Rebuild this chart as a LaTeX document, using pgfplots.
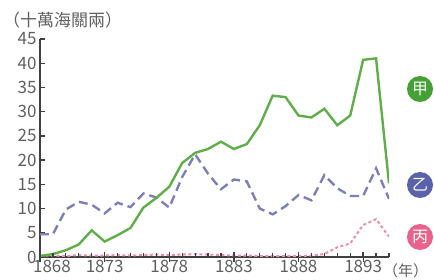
\documentclass[border=0pt]{standalone}
\usepackage{pgfplots}
\pgfplotsset{compat=1.18}
\usepackage{fontspec}
\setmainfont{Noto Sans CJK TC}
\definecolor{cgreen}{HTML}{5FAE4A}
\definecolor{cblue}{HTML}{7D80B8}
\definecolor{cpink}{HTML}{EE8FA8}
\definecolor{kgreen}{HTML}{45A035}
\definecolor{kblue}{HTML}{5A62AA}
\definecolor{kpink}{HTML}{E8628A}
\definecolor{txt}{HTML}{606060}
\definecolor{axc}{HTML}{404040}
\begin{document}
\begin{tikzpicture}
\useasboundingbox (-40pt,-22pt) rectangle (394pt,257pt);
\begin{axis}[
  scale only axis, width=349pt, height=218pt,
  xmin=1868, xmax=1895, ymin=0, ymax=45,
  axis x line=bottom, axis y line=left,
  axis line style={axc, line width=2pt, -},
  xtick={1868,1873,1878,1883,1888,1893},
  xticklabels={\hspace*{24pt}1868,1873,1878,1883,1888,1893},
  ytick={0,5,10,15,20,25,30,35,40,45},
  yticklabels={0,5,10,15,20,25,30,35,40,45},
  tick align=inside,
  major tick length=5pt,
  every tick/.append style={axc, line width=1.3pt},
  ticklabel style={font=\fontsize{17}{17}\selectfont\color{txt}},
]
\addplot[cpink, line width=2pt, dash pattern=on 3pt off 2.5pt] coordinates {
(1868,0.3)(1869,0.3)(1870,0.2)(1871,0.4)(1872,0.3)(1873,0.3)(1874,0.4)(1875,0.3)
(1876,0.4)(1877,0.5)(1878,0.4)(1879,0.5)(1880,0.6)(1881,0.5)(1882,0.4)(1883,0.3)
(1884,0.3)(1885,0.2)(1886,0.2)(1887,0.2)(1888,0.2)(1889,0.3)(1890,0.6)(1891,2.0)
(1892,2.8)(1893,6.6)(1894,7.8)(1895,4.2)};
\addplot[cblue, line width=2.4pt, dash pattern=on 9pt off 5pt] coordinates {
(1868,4.7)(1869,4.7)(1870,9.8)(1871,11.4)(1872,10.8)(1873,9.0)(1874,11.2)(1875,10.3)
(1876,13.1)(1877,12.3)(1878,10.2)(1879,16.5)(1880,21.2)(1881,17.2)(1882,14.0)(1883,16.0)
(1884,15.6)(1885,10.0)(1886,8.8)(1887,10.5)(1888,12.8)(1889,11.7)(1890,16.9)(1891,14.2)
(1892,12.6)(1893,12.6)(1894,18.3)(1895,12.0)};
\addplot[cgreen, line width=2.4pt] coordinates {
(1868,0.2)(1869,0.6)(1870,1.4)(1871,2.6)(1872,5.5)(1873,3.2)(1874,4.5)(1875,6.0)
(1876,10.2)(1877,12.2)(1878,14.5)(1879,19.4)(1880,21.5)(1881,22.3)(1882,23.8)(1883,22.3)
(1884,23.3)(1885,27.2)(1886,33.3)(1887,33.0)(1888,29.2)(1889,28.8)(1890,30.6)(1891,27.2)
(1892,29.2)(1893,40.7)(1894,41.0)(1895,15.2)};
\end{axis}
% axis ticks (decorative, on the axis frame)
\foreach \i in {1,...,27} {\draw[axc, line width=1.2pt] (\i*12.9259pt,0pt) -- (\i*12.9259pt,4.5pt);}
\foreach \i in {0,5,...,25} {\draw[axc, line width=1.3pt] (\i*12.9259pt,-5pt) -- (\i*12.9259pt,5pt);}
\foreach \v in {5,10,...,45} {\draw[axc, line width=1.3pt] (0pt,\v*4.84444pt) -- (5pt,\v*4.84444pt);}
\node[circle, fill=kgreen, minimum size=26pt, inner sep=0pt, text=white, font=\fontsize{16}{16}\selectfont] at (380pt,168pt) {甲};
\node[circle, fill=kblue, minimum size=26pt, inner sep=0pt, text=white, font=\fontsize{16}{16}\selectfont] at (380pt,72pt) {乙};
\node[circle, fill=kpink, minimum size=26pt, inner sep=0pt, text=white, font=\fontsize{16}{16}\selectfont] at (380pt,20pt) {丙};
\node[anchor=west, inner sep=0pt, text=txt, font=\fontsize{17}{17}\selectfont] at (-37pt,237pt) {（十萬海關兩）};
\node[anchor=west, inner sep=0pt, text=txt, font=\fontsize{15}{15}\selectfont] at (343pt,-14pt) {（年）};
\end{tikzpicture}
\end{document}
